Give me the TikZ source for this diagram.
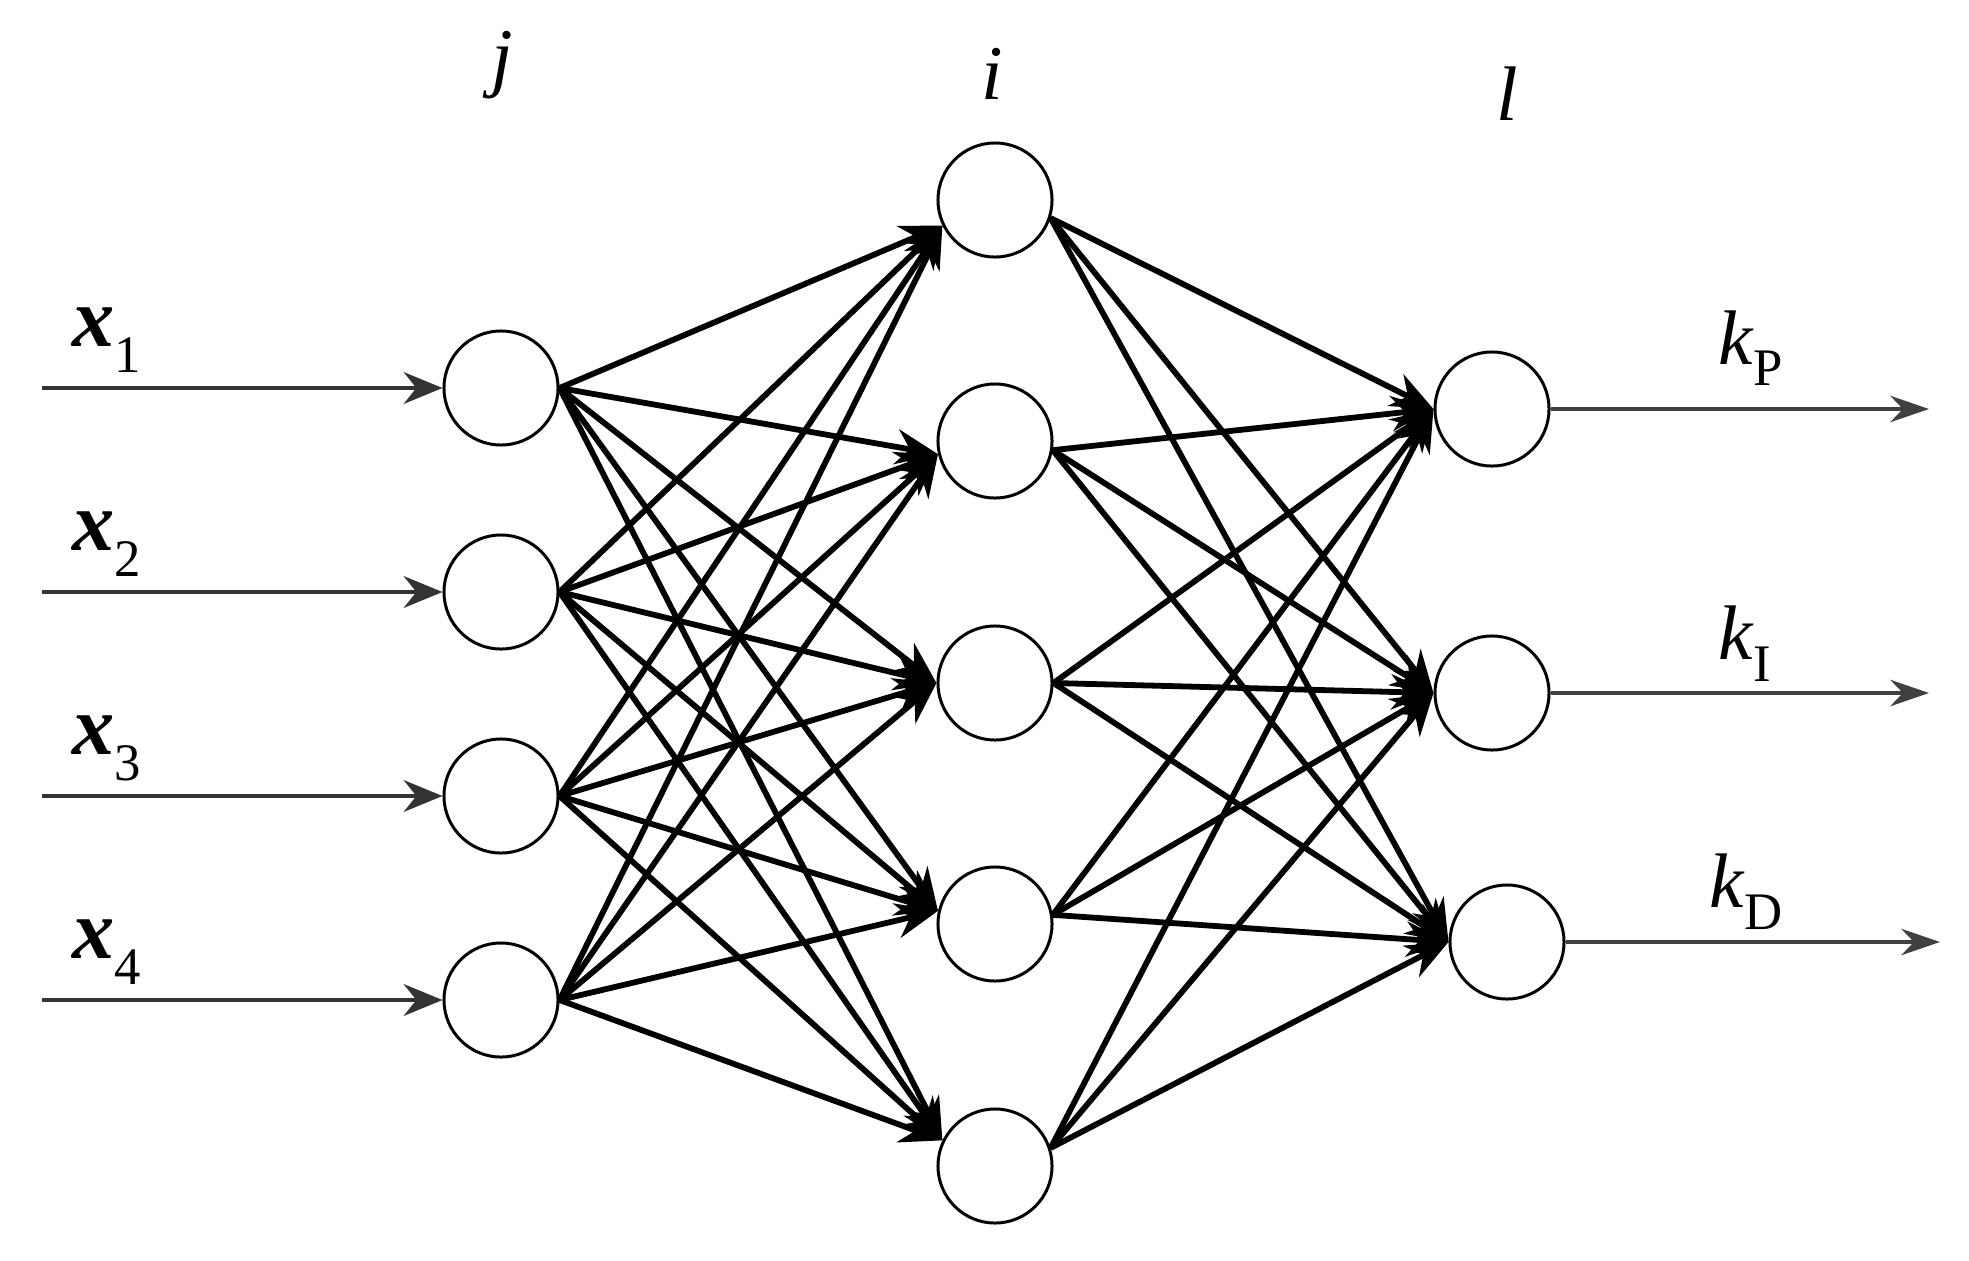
\documentclass[tikz,border=0pt]{standalone}
\usepackage{fontspec}
\setmainfont{Liberation Serif}
\usetikzlibrary{arrows.meta}
\newcommand{\lsub}[2]{\raisebox{-#1}{\fontsize{15}{15}\selectfont\upshape\mdseries #2}}

\begin{document}
\begin{tikzpicture}[x=0.01cm,y=-0.01cm,
  neuron/.style={circle,draw,line width=0.85pt,minimum size=1.14cm,inner sep=0pt},
  link/.style={line width=1.65pt,-{Stealth[length=12pt,width=10pt]}},
  feed/.style={line width=1.3pt,draw=black!80,-{Stealth[length=11pt,width=9pt]}},
  outarrow/.style={line width=1.1pt,draw=black!75,-{Stealth[length=11pt,width=7.5pt]}},
  lbl/.style={font=\fontsize{22}{26}\selectfont\itshape,inner sep=0pt}]
  \useasboundingbox (0,0) rectangle (1969,1260);
  % layer j
  \foreach \n/\y in {1/388,2/592,3/796,4/1000}
    \node[neuron] (j\n) at (501,\y) {};
  % layer i
  \foreach \n/\y in {1/200,2/441,3/683,4/924,5/1166}
    \node[neuron] (i\n) at (995,\y) {};
  % layer l
  \node[neuron] (l1) at (1492,409) {};
  \node[neuron] (l2) at (1492,693) {};
  \node[neuron] (l3) at (1507,942) {};
  % j -> i
  \foreach \a in {1,...,4}{
    \foreach \b in {1,...,5}{
      \pgfmathtruncatemacro{\ang}{180+13*(3-\b)}
      \draw[link] (j\a.east) -- (i\b.\ang);
    }
  }
  % i -> l
  \foreach \b in {1,...,5}{
    \pgfmathtruncatemacro{\ang}{9*(\b-3)}
    \foreach \c in {1,2,3}
      \draw[link] (i\b.\ang) -- (l\c.west);
  }
  % inputs
  \foreach \n/\y in {1/388,2/592,3/796,4/1000}{
    \coordinate (s\n) at (42,\y);
    \draw[feed] (s\n) -- (j\n.west);
    \node[lbl,font=\fontsize{24}{28}\selectfont\itshape,anchor=base west] (x\n) at (72,\y-42) {\bfseries x\lsub{7.4pt}{\n}};
  }
  % outputs
  \coordinate (o1) at (1929,409);
  \coordinate (o2) at (1929,693);
  \coordinate (o3) at (1940,942);
  \foreach \c in {1,2,3}
    \draw[outarrow] (l\c.east) -- (o\c);
  \node[lbl,anchor=base west] (kP) at (1718,364) {k\lsub{6pt}{P}};
  \node[lbl,anchor=base west] (kI) at (1718,659) {k\lsub{6.5pt}{I}};
  \node[lbl,anchor=base west] (kD) at (1709,907) {k\lsub{6.5pt}{D}};
  % layer names
  \node[lbl] (nj) at (502,65) {j};
  \node[lbl] (ni) at (992,74) {i};
  \node[lbl] (nl) at (1507,94) {l};
\end{tikzpicture}
\end{document}
